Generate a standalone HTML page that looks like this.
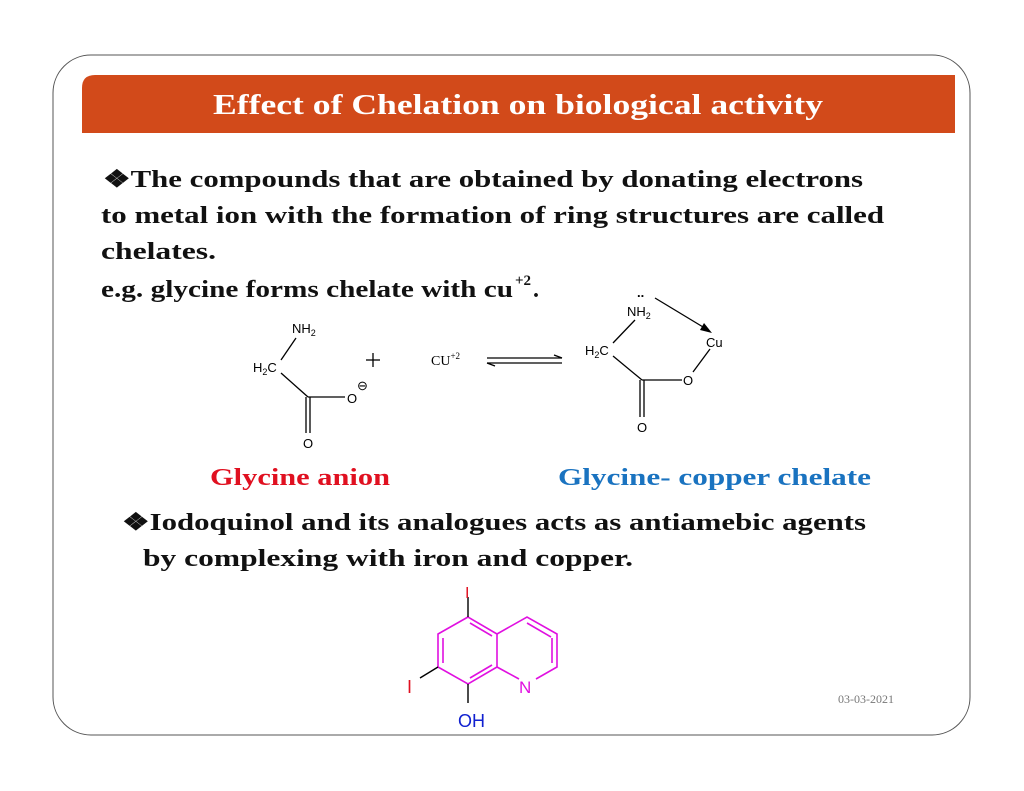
<!DOCTYPE html>
<html><head><meta charset="utf-8"><style>
html,body{margin:0;padding:0;background:#fff;}
svg{display:block}
.b{font-family:"Liberation Serif",serif;font-weight:bold;font-size:24px;fill:#111}
.c{font-family:"Liberation Sans",sans-serif;font-size:13px;fill:#000}
</style></head><body>
<svg width="1024" height="791" viewBox="0 0 1024 791">
<rect x="53" y="55" width="917" height="680" rx="38" fill="#fff" stroke="#555" stroke-width="1"/>
<path d="M95 75 H955 V133 H82 V88 Q82 75 95 75 Z" fill="#d24a1a"/>
<text x="518" y="114" text-anchor="middle" font-family="Liberation Serif,serif" font-weight="bold" font-size="28" fill="#fff" textLength="610" lengthAdjust="spacingAndGlyphs">Effect of Chelation on biological activity</text>
<text class="b" x="103" y="187" textLength="760" lengthAdjust="spacingAndGlyphs">❖The compounds that are obtained by donating electrons</text>
<text class="b" x="101" y="223" textLength="783" lengthAdjust="spacingAndGlyphs">to metal ion with the formation of ring structures are called</text>
<text class="b" x="101" y="259" textLength="115" lengthAdjust="spacingAndGlyphs">chelates.</text>
<text class="b" x="101" y="297" textLength="412" lengthAdjust="spacingAndGlyphs">e.g. glycine forms chelate with cu</text>
<text class="b" x="515" y="285" style="font-size:15px">+2</text><text class="b" x="533" y="297">.</text>
<g stroke="#000" stroke-width="1.3" fill="none">
<line x1="296" y1="338" x2="281" y2="360"/>
<line x1="281" y1="373" x2="308" y2="397"/>
<line x1="308" y1="397" x2="345" y2="397"/>
<line x1="306" y1="397" x2="306" y2="433"/>
<line x1="310" y1="397" x2="310" y2="433"/>
<line x1="366" y1="360" x2="380" y2="360"/><line x1="373" y1="353" x2="373" y2="367"/>
<line x1="487" y1="358" x2="562" y2="358"/><line x1="554" y1="355" x2="562" y2="358"/>
<line x1="487" y1="363" x2="562" y2="363"/><line x1="487" y1="363" x2="495" y2="366"/>
<line x1="635" y1="320" x2="613" y2="343"/>
<line x1="613" y1="356" x2="642" y2="380"/>
<line x1="642" y1="380" x2="682" y2="380"/>
<line x1="640" y1="380" x2="640" y2="417"/><line x1="644" y1="380" x2="644" y2="417"/>
<line x1="693" y1="372" x2="710" y2="349"/>
<line x1="655" y1="298" x2="708" y2="330"/>
</g>
<polygon points="712,333 700,330 704,323" fill="#000"/>
<text class="c" x="292" y="333">NH<tspan style="font-size:9px" dy="3">2</tspan></text>
<text class="c" x="253" y="372">H<tspan style="font-size:9px" dy="3">2</tspan><tspan dy="-3">C</tspan></text>
<text class="c" x="347" y="403">O</text>
<text class="c" x="357" y="390">⊖</text>
<text class="c" x="303" y="448">O</text>
<text x="431" y="365" font-family="Liberation Serif,serif" font-size="14">CU<tspan font-size="9" dy="-6">+2</tspan></text>
<text class="c" x="637" y="297" font-weight="bold">..</text>
<text class="c" x="627" y="316">NH<tspan style="font-size:9px" dy="3">2</tspan></text>
<text class="c" x="585" y="355">H<tspan style="font-size:9px" dy="3">2</tspan><tspan dy="-3">C</tspan></text>
<text class="c" x="706" y="347">Cu</text>
<text class="c" x="683" y="385">O</text>
<text class="c" x="637" y="432">O</text>
<text x="210" y="485" font-family="Liberation Serif,serif" font-weight="bold" font-size="24" fill="#e01020" textLength="180" lengthAdjust="spacingAndGlyphs">Glycine anion</text>
<text x="558" y="485" font-family="Liberation Serif,serif" font-weight="bold" font-size="24" fill="#1a73c0" textLength="313" lengthAdjust="spacingAndGlyphs">Glycine- copper chelate</text>
<text class="b" x="122" y="530" textLength="744" lengthAdjust="spacingAndGlyphs">❖Iodoquinol and its analogues acts as antiamebic agents</text>
<text class="b" x="143" y="566" textLength="490" lengthAdjust="spacingAndGlyphs">by complexing with iron and copper.</text>
<g stroke="#e010e0" stroke-width="1.6" fill="none">
<polygon points="468,617 438,634 438,667 468,684 497,667 497,634"/>
<polyline points="497,634 527,617 557,634 557,667 536,679"/>
<line x1="519" y1="679" x2="497" y2="667"/>
<line x1="443" y1="638" x2="443" y2="663"/>
<line x1="470" y1="623" x2="492" y2="636"/>
<line x1="470" y1="678" x2="492" y2="665"/>
<line x1="527" y1="623" x2="551" y2="637"/>
<line x1="552" y1="638" x2="552" y2="663"/>
</g>
<g stroke="#000" stroke-width="1.4">
<line x1="468" y1="617" x2="468" y2="597"/>
<line x1="438" y1="667" x2="420" y2="678"/>
<line x1="468" y1="684" x2="468" y2="703"/>
</g>
<text x="465" y="598" font-family="Liberation Sans,sans-serif" font-size="16" fill="#e01020">I</text>
<text x="407" y="693" font-family="Liberation Sans,sans-serif" font-size="18" fill="#e01020">I</text>
<text x="519" y="693" font-family="Liberation Sans,sans-serif" font-size="17" fill="#e010e0">N</text>
<text x="458" y="727" font-family="Liberation Sans,sans-serif" font-size="18" fill="#1020d0">OH</text>
<text x="838" y="703" font-family="Liberation Serif,serif" font-size="12" fill="#777">03-03-2021</text>
</svg>
</body></html>
